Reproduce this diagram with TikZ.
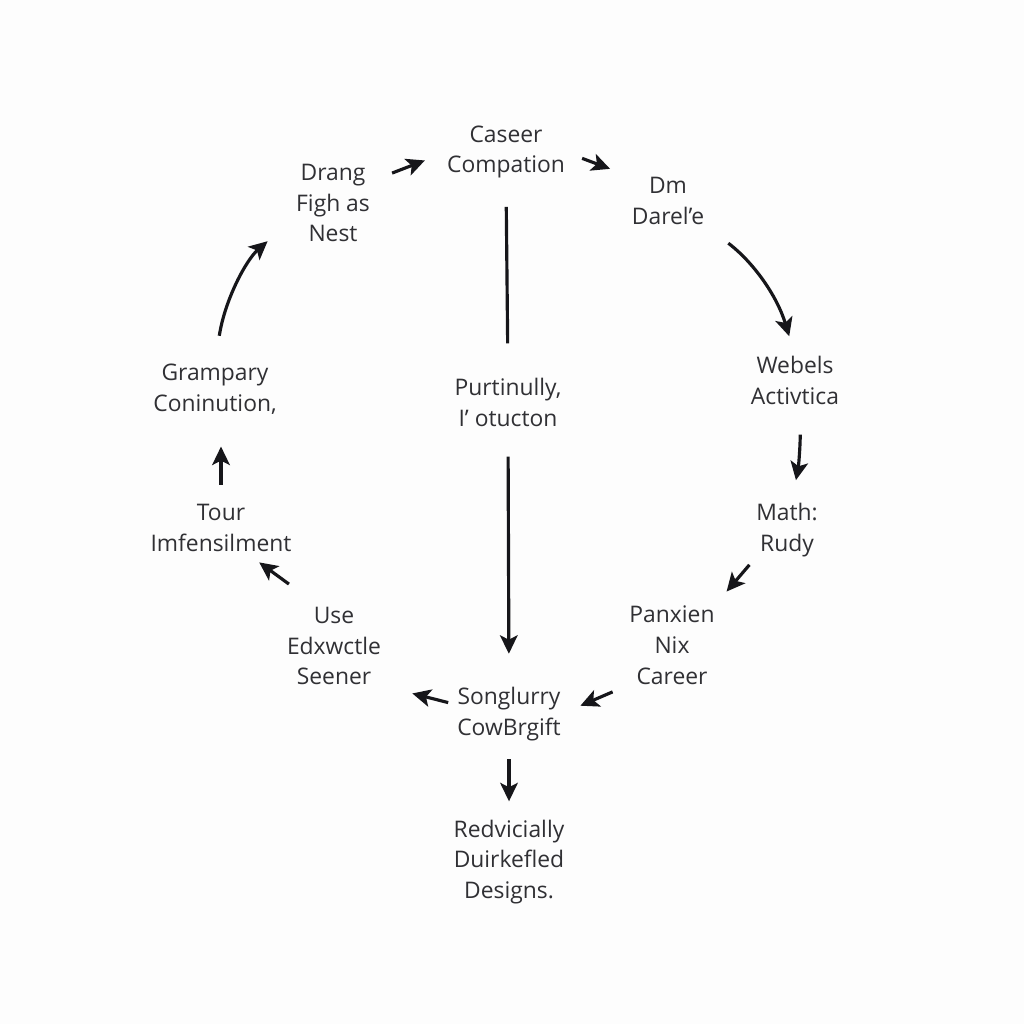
\documentclass[tikz,border=0pt]{standalone}
\usepackage{fontspec}
\setmainfont{Open Sans}
\usepackage{tikz}
\usetikzlibrary{arrows.meta, positioning, calc}
\definecolor{mytext}{RGB}{48,48,52}
\definecolor{mydark}{RGB}{22,22,26}
\definecolor{mypaper}{RGB}{253,253,253}
\tikzset{
  stage/.style={align=center, inner sep=0pt, text=mytext,
    font=\fontsize{13}{17.6}\selectfont},
  arrow/.style={-{Stealth[length=10.5pt, width=10pt, inset=2.5pt]}, line width=1.8pt, color=mydark},
  line/.style={line width=1.8pt, color=mydark}
}
\begin{document}
\begin{tikzpicture}[x=0.02cm, y=0.02cm]

  % Canvas
  \fill[mypaper] (0,0) rectangle (1024,-1024);
  \useasboundingbox (0,0) rectangle (1024,-1024);

  % Ring nodes
  \node[stage] (drang) at (333,-203) {Drang\\Figh as\\Nest};
  \node[stage] (caseer) at (506,-152) {Caseer\\Compation};
  \node[stage] (dm) at (668,-201) {Dm\\Darel’e};
  \node[stage] (webels) at (795,-380) {Webels\\Activtica};
  \node[stage] (math) at (787,-530) {Math:\\Rudy};
  \node[stage] (panxien) at (672,-645) {Panxien\\Nix\\Career};
  \node[stage] (songl) at (509,-714) {Songlurry\\CowBrgift};
  \node[stage] (use) at (334,-646) {Use\\Edxwctle\\Seener};
  \node[stage] (tour) at (221,-528) {Tour\\Imfensilment};
  \node[stage] (gramp) at (215,-389) {Grampary\\Coninution,};

  % Centre column
  \node[stage] (purt) at (508,-402) {Purtinully,\\I’ otucton};
  \node[stage] (redv) at (509,-862) {Redvicially\\Duirkefled\\Designs.};

  % Connections
  \draw[arrow, shorten <=0.47cm, shorten >=0.47cm] (drang.30) -- (caseer.west);
  \draw[arrow, shorten <=0.36cm, shorten >=0.46cm] (caseer.east) -- (dm.north west);
  \draw[arrow, shorten <=0.6cm, shorten >=0.4cm] (dm.south east) to[bend left=18] (webels.north);
  \draw[arrow, shorten <=0.6cm, shorten >=0.46cm] (webels.-80) to[bend left=6] (math.80);
  \draw[arrow, shorten <=0.2cm, shorten >=0.36cm] (math.south west) -- (panxien.north east);
  \draw[arrow, shorten <=0.36cm, shorten >=0.42cm] (panxien.south west) -- (songl.east);
  \draw[arrow, shorten <=0.18cm, shorten >=0.64cm] (songl.170) -- (use.south east);
  \draw[arrow, shorten <=0.76cm, shorten >=0.35cm] (use.110) -- (tour.-45);
  \draw[arrow, shorten <=0.38cm, shorten >=0.64cm] (tour.north) -- (gramp.south -| tour.north);
  \draw[arrow, shorten <=0.56cm, shorten >=0.75cm] (gramp.north) to[bend left=20] (drang.200);

  \draw[line, shorten <=0.56cm, shorten >=0.68cm] (caseer.south) -- (purt.north);
  \draw[arrow, shorten <=0.6cm, shorten >=0.66cm] (purt.south) -- (songl.north);
  \draw[arrow, shorten <=0.36cm, shorten >=0.36cm] (songl.south) -- (redv.north);
\end{tikzpicture}
\end{document}
